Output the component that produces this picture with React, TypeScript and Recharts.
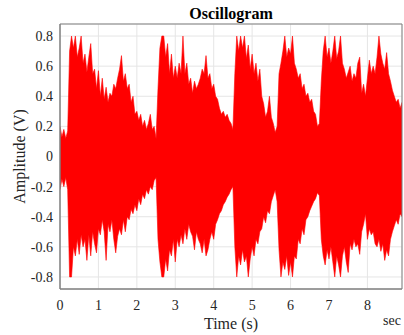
import React from "react";
import {
  ComposedChart,
  Area,
  XAxis,
  YAxis,
  CartesianGrid,
  ReferenceArea,
  Label,
} from "recharts";

// envelope of the recording, one sample every 50 ms from 0 to 8.9 s
const SAMPLE_STEP = 0.05;

const upperEnvelope = [
  0.2, 0.13, 0.18, 0.12, 0.17, 0.7, 0.8, 0.72, 0.8, 0.66, 0.72, 0.8, 0.62, 0.68, 0.56, 0.66, 0.75, 0.55, 0.58, 0.45,
  0.57, 0.4, 0.52, 0.38, 0.46, 0.36, 0.42, 0.4, 0.48, 0.45, 0.52, 0.58, 0.67, 0.5, 0.55, 0.45, 0.48, 0.36, 0.4, 0.28,
  0.3, 0.24, 0.28, 0.2, 0.24, 0.18, 0.22, 0.28, 0.18, 0.2, 0.12, 0.45, 0.72, 0.8, 0.8, 0.66, 0.75, 0.55, 0.68, 0.52,
  0.6, 0.52, 0.62, 0.55, 0.8, 0.55, 0.62, 0.48, 0.52, 0.42, 0.5, 0.45, 0.48, 0.52, 0.58, 0.55, 0.67, 0.52, 0.55, 0.45,
  0.48, 0.4, 0.38, 0.32, 0.28, 0.3, 0.26, 0.28, 0.24, 0.22, 0.18, 0.55, 0.8, 0.7, 0.8, 0.72, 0.8, 0.65, 0.74, 0.58,
  0.68, 0.55, 0.62, 0.5, 0.58, 0.4, 0.35, 0.26, 0.3, 0.4, 0.26, 0.22, 0.16, 0.2, 0.55, 0.62, 0.7, 0.8, 0.66, 0.72,
  0.68, 0.8, 0.62, 0.58, 0.52, 0.55, 0.45, 0.48, 0.4, 0.42, 0.36, 0.38, 0.3, 0.28, 0.2, 0.22, 0.5, 0.7, 0.8, 0.66,
  0.72, 0.62, 0.7, 0.8, 0.65, 0.7, 0.8, 0.62, 0.58, 0.52, 0.56, 0.6, 0.5, 0.55, 0.52, 0.62, 0.66, 0.42, 0.48, 0.4,
  0.52, 0.64, 0.55, 0.6, 0.55, 0.66, 0.8, 0.68, 0.62, 0.58, 0.69, 0.55, 0.5, 0.44, 0.4, 0.36, 0.38, 0.32, 0.36,
];

const lowerEnvelope = [
  -0.22, -0.15, -0.2, -0.14, -0.22, -0.8, -0.8, -0.6, -0.66, -0.55, -0.65, -0.52, -0.6, -0.55, -0.69, -0.52, -0.66, -0.5, -0.58, -0.64,
  -0.48, -0.52, -0.42, -0.5, -0.69, -0.45, -0.5, -0.42, -0.55, -0.64, -0.53, -0.48, -0.52, -0.42, -0.5, -0.4, -0.42, -0.35, -0.38, -0.32,
  -0.36, -0.28, -0.32, -0.25, -0.28, -0.22, -0.25, -0.2, -0.22, -0.16, -0.14, -0.55, -0.7, -0.8, -0.8, -0.68, -0.76, -0.62, -0.66, -0.55,
  -0.7, -0.55, -0.6, -0.52, -0.58, -0.48, -0.55, -0.45, -0.5, -0.53, -0.62, -0.5, -0.55, -0.58, -0.64, -0.55, -0.66, -0.62, -0.55, -0.5,
  -0.55, -0.45, -0.42, -0.38, -0.36, -0.32, -0.3, -0.27, -0.25, -0.22, -0.2, -0.6, -0.8, -0.66, -0.72, -0.62, -0.7, -0.66, -0.8, -0.68,
  -0.6, -0.66, -0.55, -0.58, -0.5, -0.48, -0.4, -0.44, -0.36, -0.38, -0.3, -0.26, -0.22, -0.3, -0.62, -0.8, -0.7, -0.75, -0.66, -0.79,
  -0.7, -0.8, -0.66, -0.68, -0.55, -0.58, -0.48, -0.52, -0.42, -0.4, -0.36, -0.33, -0.3, -0.28, -0.24, -0.26, -0.55, -0.66, -0.72, -0.62,
  -0.68, -0.6, -0.7, -0.8, -0.66, -0.72, -0.8, -0.66, -0.6, -0.7, -0.77, -0.58, -0.62, -0.55, -0.6, -0.58, -0.65, -0.5, -0.45, -0.38,
  -0.55, -0.48, -0.52, -0.5, -0.58, -0.6, -0.55, -0.63, -0.58, -0.69, -0.62, -0.66, -0.55, -0.5, -0.46, -0.42, -0.45, -0.38, -0.4,
];

const timeTicks = [0, 1, 2, 3, 4, 5, 6, 7, 8];
const amplitudeTicks = [-0.8, -0.6, -0.4, -0.2, 0, 0.2, 0.4, 0.6, 0.8];

const T_MAX = 8.9;
const A_LIM = 0.88;

const data = upperEnvelope.map((hi, i) => ({
  t: Math.round(i * SAMPLE_STEP * 100) / 100,
  range: [lowerEnvelope[i], hi],
}));

const serif = "'Liberation Serif', 'Times New Roman', serif";
const tickStyle = { fill: "#262626", fontSize: 14, fontFamily: serif };

export default function App() {
  return (
    <div style={{ position: "absolute", left: 0, top: 0, width: 404, height: 335, background: "#fff" }}>
      <div
        style={{
          position: "absolute",
          top: 5,
          left: 0,
          width: "100%",
          paddingLeft: 58,
          boxSizing: "border-box",
          textAlign: "center",
          fontFamily: serif,
          fontWeight: "bold",
          fontSize: 16,
          color: "#000",
        }}
      >
        Oscillogram
      </div>
      <ComposedChart
        width={404}
        height={335}
        data={data}
        margin={{ top: 24, right: 2, bottom: 0, left: 0 }}
      >
        <CartesianGrid stroke="#e5e5e5" />
        <XAxis
          dataKey="t"
          type="number"
          domain={[0, T_MAX]}
          ticks={timeTicks}
          allowDataOverflow
          height={46}
          tickSize={0}
          tickMargin={11}
          tick={tickStyle}
          axisLine={{ stroke: "#808080" }}
        >
          <Label
            value="Time (s)"
            position="insideBottom"
            offset={6}
            style={{ fill: "#262626", fontSize: 16, fontFamily: serif }}
          />
        </XAxis>
        <YAxis
          type="number"
          domain={[-A_LIM, A_LIM]}
          ticks={amplitudeTicks}
          allowDataOverflow
          width={60}
          tickSize={0}
          tickMargin={7}
          tick={tickStyle}
          tickFormatter={(v: number) => (v === 0 ? "0" : String(v))}
          axisLine={{ stroke: "#808080" }}
        >
          <Label
            value="Amplitude (V)"
            angle={-90}
            position="insideLeft"
            offset={19}
            style={{ fill: "#262626", fontSize: 16, fontFamily: serif, textAnchor: "middle" }}
          />
        </YAxis>
        <Area
          type="linear"
          dataKey="range"
          stroke="#ff0000"
          strokeWidth={0.6}
          fill="#ff0000"
          fillOpacity={1}
          isAnimationActive={false}
          dot={false}
          activeDot={false}
        />
        <ReferenceArea
          x1={0}
          x2={T_MAX}
          y1={-A_LIM}
          y2={A_LIM}
          fill="none"
          stroke="#808080"
          strokeWidth={1}
          ifOverflow="visible"
        />
      </ComposedChart>
      <div
        style={{
          position: "absolute",
          left: 383,
          top: 313,
          fontFamily: serif,
          fontSize: 14,
          color: "#262626",
        }}
      >
        sec
      </div>
    </div>
  );
}
